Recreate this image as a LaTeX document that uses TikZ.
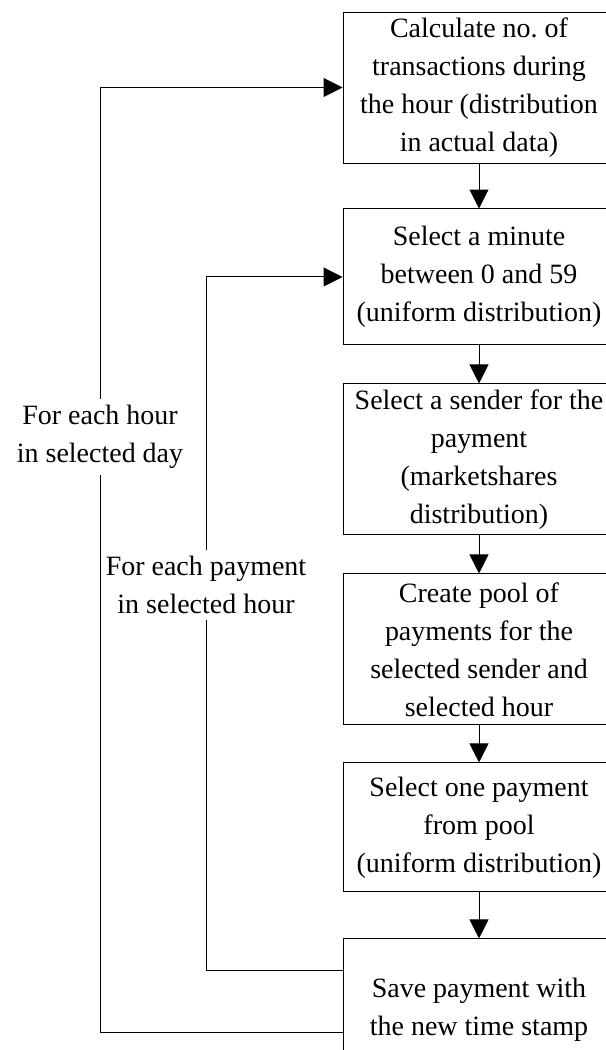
\documentclass[tikz,border=0pt]{standalone}
\usepackage{fontspec}
\setmainfont{Liberation Serif}
\usetikzlibrary{positioning, arrows.meta, calc}

\begin{document}
\begin{tikzpicture}[
    font=\fontsize{19.9}{27}\selectfont,
    box/.style={rectangle, draw, line width=0.7pt, minimum width=6.8cm, align=center, inner sep=0pt},
    flowarrow/.style={-{Triangle[length=13.5pt, width=13.5pt]}, line width=0.7pt},
    looplabel/.style={align=center, inner sep=4pt}
]
    \useasboundingbox (0,0) rectangle (15.125,-26.25);

    % process steps
    \node[box, minimum height=3.775cm] (calc) at (11.975,-2.1875) {Calculate no.\ of\\transactions during\\the hour (distribution\\in actual data)};
    \node[box, minimum height=3.4cm, below=1.125cm of calc] (minute) {Select a minute\\between 0 and 59\\(uniform distribution)};
    \node[box, minimum height=3.775cm, below=0.95cm of minute] (sender) {Select a sender for the\\payment\\(marketshares\\distribution)};
    \node[box, minimum height=3.775cm, below=0.95cm of sender] (pool) {Create pool of\\payments for the\\selected sender and\\selected hour};
    \node[box, minimum height=3.225cm, below=0.925cm of pool] (pick) {Select one payment\\from pool\\(uniform distribution)};
    \node[box, minimum height=3.55cm, below=1.15cm of pick] (save) {Save payment with\\the new time stamp};

    \draw[flowarrow] (calc) -- (minute);
    \draw[flowarrow] (minute) -- (sender);
    \draw[flowarrow] (sender) -- (pool);
    \draw[flowarrow] (pool) -- (pick);
    \draw[flowarrow] (pick) -- (save);

    % loops
    \node[looplabel] (hourlbl) at (2.5,-10.925) {For each hour\\in selected day};
    \node[looplabel] (paylbl) at (5.15,-14.625) {For each payment\\in selected hour};

    \draw[flowarrow] ([yshift=-0.575cm]save.west) -| (hourlbl) |- (calc.west);
    \draw[flowarrow] ([yshift=0.975cm]save.west) -| (paylbl) |- (minute.west);
\end{tikzpicture}
\end{document}
